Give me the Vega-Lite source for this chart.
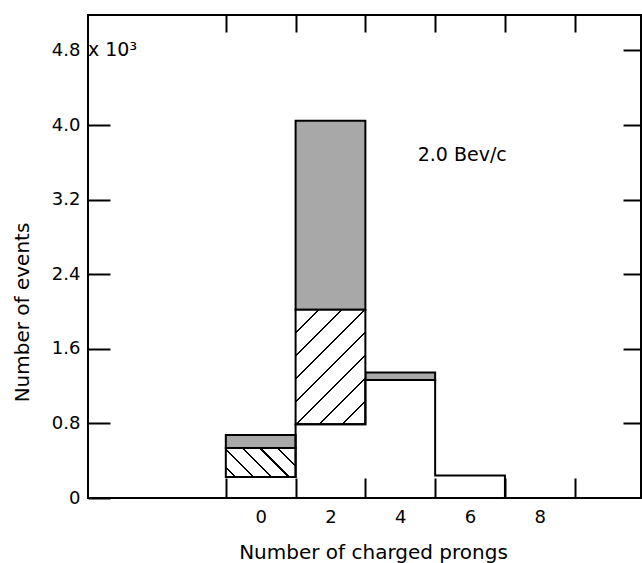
{
  "$schema": "https://vega.github.io/schema/vega-lite/v6.json",
  "width": 553,
  "height": 483,
  "autosize": "none",
  "padding": {"left": 88, "top": 15, "right": 1, "bottom": 65},
  "background": "white",
  "config": {
    "view": {"stroke": "black", "strokeWidth": 2},
    "font": "DejaVu Sans",
    "axis": {
      "domain": false,
      "grid": false,
      "tickColor": "black",
      "tickWidth": 2,
      "labelColor": "black",
      "labelFont": "DejaVu Sans",
      "labelFontSize": 18,
      "labelOverlap": false,
      "titleFont": "DejaVu Sans",
      "titleFontSize": 20,
      "titleFontWeight": "normal",
      "titleColor": "black"
    }
  },
  "datasets": {
    "bars": [
      {"prongs": 0, "part": "hatch", "lo": -1, "hi": 1, "bottom": 0.225, "top": 0.536},
      {"prongs": 0, "part": "dot", "lo": -1, "hi": 1, "bottom": 0.536, "top": 0.675},
      {"prongs": 2, "part": "hatch", "lo": 1, "hi": 3, "bottom": 0.79, "top": 2.02},
      {"prongs": 2, "part": "dot", "lo": 1, "hi": 3, "bottom": 2.02, "top": 4.045},
      {"prongs": 4, "part": "dot", "lo": 3, "hi": 5, "bottom": 1.265, "top": 1.345}
    ],
    "white": [
      {"edge": -1, "count": 0.225},
      {"edge": 1, "count": 0.79},
      {"edge": 3, "count": 1.265},
      {"edge": 5, "count": 0.24},
      {"edge": 7, "count": 0}
    ],
    "notes": [
      {"x": 4.5, "y": 3.68, "text": "2.0 Bev/c"},
      {"x": -4.95, "y": 4.8, "text": "x 10³"}
    ]
  },
  "layer": [
    {
      "data": {"name": "bars"},
      "transform": [{"filter": "datum.part == 'dot'"}],
      "mark": {"type": "rect", "fill": "#a8a8a8", "stroke": "black", "strokeWidth": 2},
      "encoding": {
        "x": {
          "field": "lo", "type": "quantitative",
          "scale": {"domain": [-4.95, 10.9], "nice": false, "zero": false},
          "axis": {
            "orient": "bottom",
            "values": [-1, 0, 1, 2, 3, 4, 5, 6, 7, 8, 9],
            "tickSize": -20,
            "tickOpacity": {"condition": {"test": "datum.value % 2 == 0", "value": 0}, "value": 1},
            "labelExpr": "datum.value % 2 == 0 ? datum.label : ''",
            "labelPadding": 30,
            "title": "Number of charged prongs",
            "titleX": 285,
            "titleY": 54,
            "titleAlign": "center",
            "titleBaseline": "middle"
          }
        },
        "x2": {"field": "hi"},
        "y": {
          "field": "bottom", "type": "quantitative",
          "scale": {"domain": [0, 5.18], "nice": false, "zero": false},
          "axis": {
            "orient": "left",
            "values": [0, 0.8, 1.6, 2.4, 3.2, 4.0, 4.8],
            "tickSize": -22,
            "tickOpacity": {"condition": {"test": "datum.value > 4.5", "value": 0}, "value": 1},
            "labelExpr": "datum.value == 0 ? '0' : format(datum.value, '.1f')",
            "labelPadding": 30,
            "title": "Number of events",
            "titleX": -66,
            "titleY": 297,
            "titleAlign": "center",
            "titleBaseline": "middle"
          }
        },
        "y2": {"field": "top"}
      }
    },
    {
      "data": {"name": "bars"},
      "transform": [{"filter": "datum.part == 'hatch' && datum.prongs == 2"}],
      "mark": {
        "type": "rect", "stroke": "black", "strokeWidth": 2,
        "fill": {
          "gradient": "linear", "x1": 0, "y1": 0, "x2": 0.7143, "y2": 1.1738,
          "stops": [
            {"offset": 0, "color": "white"},
            {"offset": 0.119, "color": "white"}, {"offset": 0.119, "color": "black"}, {"offset": 0.131, "color": "black"}, {"offset": 0.131, "color": "white"},
            {"offset": 0.244, "color": "white"}, {"offset": 0.244, "color": "black"}, {"offset": 0.256, "color": "black"}, {"offset": 0.256, "color": "white"},
            {"offset": 0.369, "color": "white"}, {"offset": 0.369, "color": "black"}, {"offset": 0.381, "color": "black"}, {"offset": 0.381, "color": "white"},
            {"offset": 0.494, "color": "white"}, {"offset": 0.494, "color": "black"}, {"offset": 0.506, "color": "black"}, {"offset": 0.506, "color": "white"},
            {"offset": 0.619, "color": "white"}, {"offset": 0.619, "color": "black"}, {"offset": 0.631, "color": "black"}, {"offset": 0.631, "color": "white"},
            {"offset": 0.744, "color": "white"}, {"offset": 0.744, "color": "black"}, {"offset": 0.756, "color": "black"}, {"offset": 0.756, "color": "white"},
            {"offset": 0.869, "color": "white"}, {"offset": 0.869, "color": "black"}, {"offset": 0.881, "color": "black"}, {"offset": 0.881, "color": "white"},
            {"offset": 1, "color": "white"}
          ]
        }
      },
      "encoding": {
        "x": {
          "field": "lo", "type": "quantitative",
          "axis": {
            "orient": "top",
            "values": [-1, 1, 3, 5, 7, 9],
            "tickSize": -17,
            "labels": false,
            "title": null
          }
        },
        "x2": {"field": "hi"},
        "y": {
          "field": "bottom", "type": "quantitative",
          "axis": {
            "orient": "right",
            "values": [0.8, 1.6, 2.4, 3.2, 4.0, 4.8],
            "tickSize": -18,
            "labels": false,
            "title": null
          }
        },
        "y2": {"field": "top"}
      }
    },
    {
      "data": {"name": "bars"},
      "transform": [{"filter": "datum.part == 'hatch' && datum.prongs == 0"}],
      "mark": {
        "type": "rect", "stroke": "black", "strokeWidth": 2,
        "fill": {
          "gradient": "linear", "x1": 0, "y1": 1, "x2": 1.207, "y2": 0.4985,
          "stops": [
            {"offset": 0, "color": "white"},
            {"offset": 0.089, "color": "white"}, {"offset": 0.089, "color": "black"}, {"offset": 0.111, "color": "black"}, {"offset": 0.111, "color": "white"},
            {"offset": 0.269, "color": "white"}, {"offset": 0.269, "color": "black"}, {"offset": 0.291, "color": "black"}, {"offset": 0.291, "color": "white"},
            {"offset": 0.449, "color": "white"}, {"offset": 0.449, "color": "black"}, {"offset": 0.471, "color": "black"}, {"offset": 0.471, "color": "white"},
            {"offset": 0.629, "color": "white"}, {"offset": 0.629, "color": "black"}, {"offset": 0.651, "color": "black"}, {"offset": 0.651, "color": "white"},
            {"offset": 0.809, "color": "white"}, {"offset": 0.809, "color": "black"}, {"offset": 0.831, "color": "black"}, {"offset": 0.831, "color": "white"},
            {"offset": 1, "color": "white"}
          ]
        }
      },
      "encoding": {
        "x": {"field": "lo", "type": "quantitative", "axis": null},
        "x2": {"field": "hi"},
        "y": {"field": "bottom", "type": "quantitative", "axis": null},
        "y2": {"field": "top"}
      }
    },
    {
      "data": {"name": "white"},
      "mark": {"type": "line", "interpolate": "step-after", "stroke": "black", "strokeWidth": 2},
      "encoding": {
        "x": {"field": "edge", "type": "quantitative", "axis": null},
        "y": {"field": "count", "type": "quantitative", "axis": null}
      }
    },
    {
      "data": {"name": "notes"},
      "mark": {"type": "text", "align": "left", "baseline": "middle", "font": "DejaVu Sans", "fontSize": 19, "color": "black"},
      "encoding": {
        "x": {"field": "x", "type": "quantitative", "axis": null},
        "y": {"field": "y", "type": "quantitative", "axis": null},
        "text": {"field": "text"}
      }
    }
  ]
}
